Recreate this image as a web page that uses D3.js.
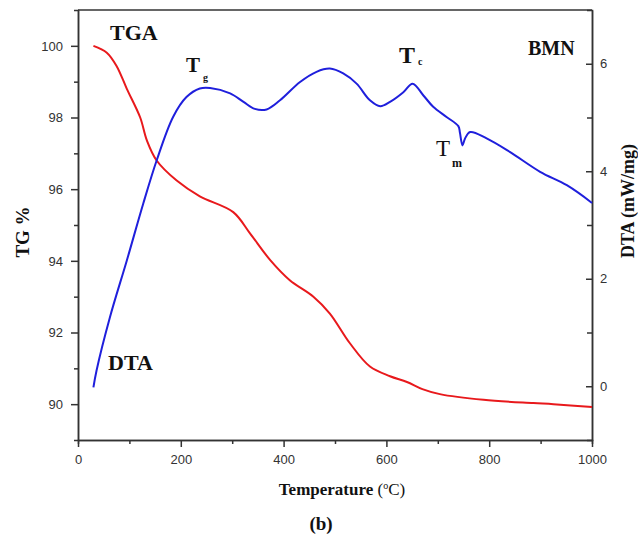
<!DOCTYPE html>
<html>
<head>
<meta charset="utf-8">
<script src="https://cdn.jsdelivr.net/npm/d3@7"></script>
<style>
  body { margin: 0; background: #fff; }
  svg { display: block; }
  .tick text { font-family: "Liberation Sans", Arial, sans-serif; font-size: 13px; fill: #333; }
  .serif { font-family: "Liberation Serif", "Times New Roman", serif; fill: #111; }
</style>
</head>
<body>
<div id="chart"></div>
<script>
// TGA curve (left axis, TG %)
var tgaTemp = [30, 56, 75, 95, 121, 134, 153, 192, 237, 302, 335, 374, 412, 458, 490, 529, 568, 607, 640, 670, 704, 789, 886, 925, 1000];
var tgaValue = [100.0, 99.81, 99.44, 98.8, 98.0, 97.36, 96.8, 96.24, 95.8, 95.36, 94.76, 94.02, 93.46, 93.0, 92.53, 91.7, 91.05, 90.78, 90.62, 90.42, 90.28, 90.12, 90.03, 90.0, 89.92];

// DTA curve (right axis, mW/mg)
var dtaTemp = [30, 36, 62, 95, 127, 153, 185, 211, 237, 257, 296, 322, 344, 367, 393, 432, 464, 490, 516, 542, 568, 588, 607, 633, 651, 672, 691, 717, 740, 743, 748, 753, 763, 795, 840, 899, 951, 1000];
var dtaValue = [-0.02, 0.29, 1.28, 2.34, 3.4, 4.2, 5.01, 5.38, 5.54, 5.55, 5.45, 5.29, 5.16, 5.15, 5.32, 5.66, 5.85, 5.91, 5.82, 5.63, 5.32, 5.21, 5.29, 5.47, 5.63, 5.41, 5.2, 5.01, 4.84, 4.72, 4.48, 4.61, 4.73, 4.61, 4.36, 3.99, 3.74, 3.41];

var xTicks = [0, 200, 400, 600, 800, 1000];
var xMinor = [100, 300, 500, 700, 900];
var tgTicks = [90, 92, 94, 96, 98, 100];
var tgMinor = [91, 93, 95, 97, 99];
var dtaTicks = [0, 2, 4, 6];
var dtaMinor = [1, 3, 5];

var width = 638, height = 535;
var plotLeft = 78, plotRight = 592, plotTop = 10, plotBottom = 440;

var svg = d3.select("#chart").append("svg")
    .attr("width", width)
    .attr("height", height);

var x = d3.scaleLinear().domain([0, 1000]).range([plotLeft, plotRight]);
var yL = d3.scaleLinear().domain([89, 101]).range([plotBottom, plotTop]);
var yR = d3.scaleLinear().domain([-1, 7]).range([plotBottom, plotTop]);

function styleAxis(g) {
    g.select(".domain").attr("stroke", "#333").attr("stroke-width", 1.5);
    g.selectAll(".tick line").attr("stroke", "#333").attr("stroke-width", 1.5);
}

// minor ticks first
svg.append("g").attr("transform", "translate(0," + plotBottom + ")")
    .call(d3.axisBottom(x).tickValues(xMinor).tickSize(4).tickFormat(""))
    .call(styleAxis);
svg.append("g").attr("transform", "translate(" + plotLeft + ",0)")
    .call(d3.axisLeft(yL).tickValues(tgMinor).tickSize(4).tickFormat(""))
    .call(styleAxis);
svg.append("g").attr("transform", "translate(" + plotRight + ",0)")
    .call(d3.axisLeft(yR).tickValues(dtaMinor).tickSize(5).tickFormat(""))
    .call(styleAxis);

// major ticks
svg.append("g").attr("transform", "translate(0," + plotBottom + ")")
    .call(d3.axisBottom(x).tickValues(xTicks).tickSize(7).tickPadding(8).tickSizeOuter(0).tickFormat(d3.format("d")))
    .call(styleAxis);
svg.append("g").attr("transform", "translate(" + plotLeft + ",0)")
    .call(d3.axisLeft(yL).tickValues(tgTicks).tickSize(7).tickPadding(8).tickSizeOuter(0).tickFormat(d3.format("d")))
    .call(styleAxis);
var rAxis = svg.append("g").attr("transform", "translate(" + plotRight + ",0)")
    .call(d3.axisLeft(yR).tickValues(dtaTicks).tickSize(6).tickSizeOuter(0).tickFormat(d3.format("d")))
    .call(styleAxis);
rAxis.selectAll(".tick text").attr("x", 8).attr("text-anchor", "start");

// top border
svg.append("line")
    .attr("x1", plotLeft).attr("x2", plotRight)
    .attr("y1", plotTop).attr("y2", plotTop)
    .attr("stroke", "#333").attr("stroke-width", 1.5);

var tgaLine = d3.line()
    .x(function (d, i) { return x(tgaTemp[i]); })
    .y(function (d) { return yL(d); })
    .curve(d3.curveCatmullRom.alpha(0.5));

var dtaLine = d3.line()
    .x(function (d, i) { return x(dtaTemp[i]); })
    .y(function (d) { return yR(d); })
    .curve(d3.curveCatmullRom.alpha(0.5));

svg.append("path")
    .datum(tgaValue)
    .attr("d", tgaLine)
    .attr("fill", "none")
    .attr("stroke", "#e8191c")
    .attr("stroke-width", 2);

svg.append("path")
    .datum(dtaValue)
    .attr("d", dtaLine)
    .attr("fill", "none")
    .attr("stroke", "#1f1fdc")
    .attr("stroke-width", 2);

// annotations
function label(txt, px, py, size, weight) {
    return svg.append("text").attr("class", "serif")
        .attr("x", px).attr("y", py)
        .style("font-size", size + "px")
        .style("font-weight", weight || "bold")
        .text(txt);
}

label("TGA", 110, 40, 22);
label("DTA", 108, 370, 22);
label("BMN", 528, 55, 20);

label("T", 186, 72, 21);
label("g", 203, 81, 10);
label("T", 399, 63, 24);
label("c", 418, 65, 10);
label("T", 436, 156, 23, "normal");
label("m", 452, 167, 12);

// axis titles
svg.append("text").attr("class", "serif")
    .attr("transform", "translate(29,232) rotate(-90)")
    .attr("text-anchor", "middle")
    .style("font-size", "19px").style("font-weight", "bold")
    .text("TG %");

svg.append("text").attr("class", "serif")
    .attr("transform", "translate(634,201) rotate(-90)")
    .attr("text-anchor", "middle")
    .style("font-size", "18px").style("font-weight", "bold")
    .text("DTA (mW/mg)");

var xt = svg.append("text").attr("class", "serif")
    .attr("x", 342).attr("y", 495)
    .attr("text-anchor", "middle")
    .style("font-size", "17px");
xt.append("tspan").style("font-weight", "bold").text("Temperature ");
xt.append("tspan").text("(");
xt.append("tspan").attr("dy", -6).style("font-size", "10px").text("o");
xt.append("tspan").attr("dy", 6).text("C)");

svg.append("text").attr("class", "serif")
    .attr("x", 321).attr("y", 530)
    .attr("text-anchor", "middle")
    .style("font-size", "19px").style("font-weight", "bold")
    .text("(b)");
</script>
</body>
</html>
